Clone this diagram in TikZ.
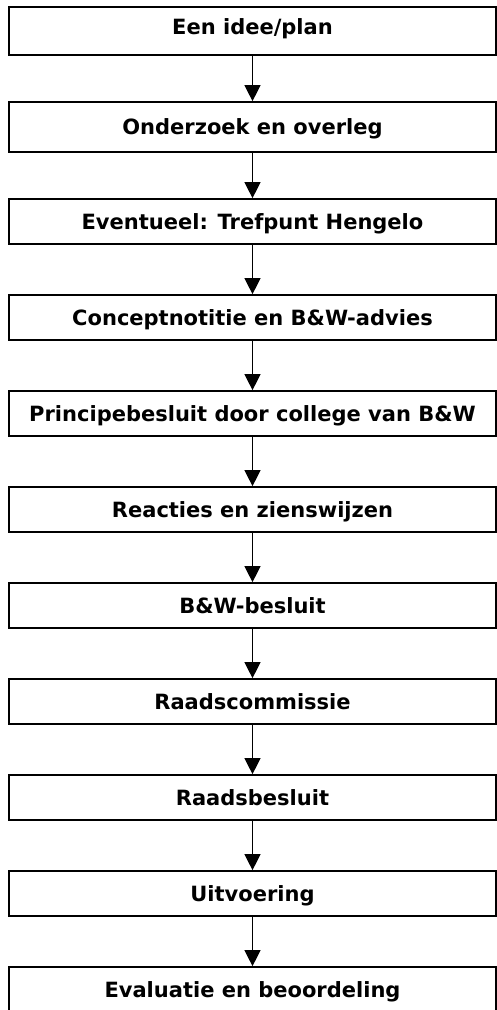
\documentclass[tikz,border=0pt]{standalone}
\usepackage{fontspec}
\setmainfont{DejaVu Sans}
\usepackage{tikz}
\usetikzlibrary{positioning,arrows.meta}

\tikzset{
    stepbox/.style={draw, line width=1.7pt, minimum width=487pt, inner sep=0pt,
        text height=30pt, text depth=15pt, font=\fontsize{21}{24}\selectfont\bfseries},
    flow/.style={-{Triangle[width=16pt,length=16pt]}, line width=1.3pt}
}

\begin{document}
\begin{tikzpicture}[x=1pt, y=-1pt, node distance=96pt]
        \useasboundingbox (0,0) rectangle (497,1010);

        \node[stepbox, text height=27pt, text depth=21pt] (s1) at (252.5,31) {Een idee/plan};
        \node[stepbox, text height=32pt, text depth=18pt] (s2) [below of=s1] {Onderzoek en overleg};
        \node[stepbox] (s3) [below of=s2, node distance=94.5pt] {Eventueel: Trefpunt Hengelo};
        \node[stepbox] (s4) [below of=s3] {Conceptnotitie en B\&W-advies};
        \node[stepbox] (s5) [below of=s4] {Principebesluit door college van B\&W};
        \node[stepbox] (s6) [below of=s5] {Reacties en zienswijzen};
        \node[stepbox] (s7) [below of=s6] {B\&W-besluit};
        \node[stepbox] (s8) [below of=s7] {Raadscommissie};
        \node[stepbox] (s9) [below of=s8] {Raadsbesluit};
        \node[stepbox] (s10) [below of=s9] {Uitvoering};
        \node[stepbox] (s11) [below of=s10] {Evaluatie en beoordeling};

        \draw[flow] (s1) -- (s2);
        \draw[flow] (s2) -- (s3);
        \draw[flow] (s3) -- (s4);
        \draw[flow] (s4) -- (s5);
        \draw[flow] (s5) -- (s6);
        \draw[flow] (s6) -- (s7);
        \draw[flow] (s7) -- (s8);
        \draw[flow] (s8) -- (s9);
        \draw[flow] (s9) -- (s10);
        \draw[flow] (s10) -- (s11);
    \end{tikzpicture}
\end{document}
